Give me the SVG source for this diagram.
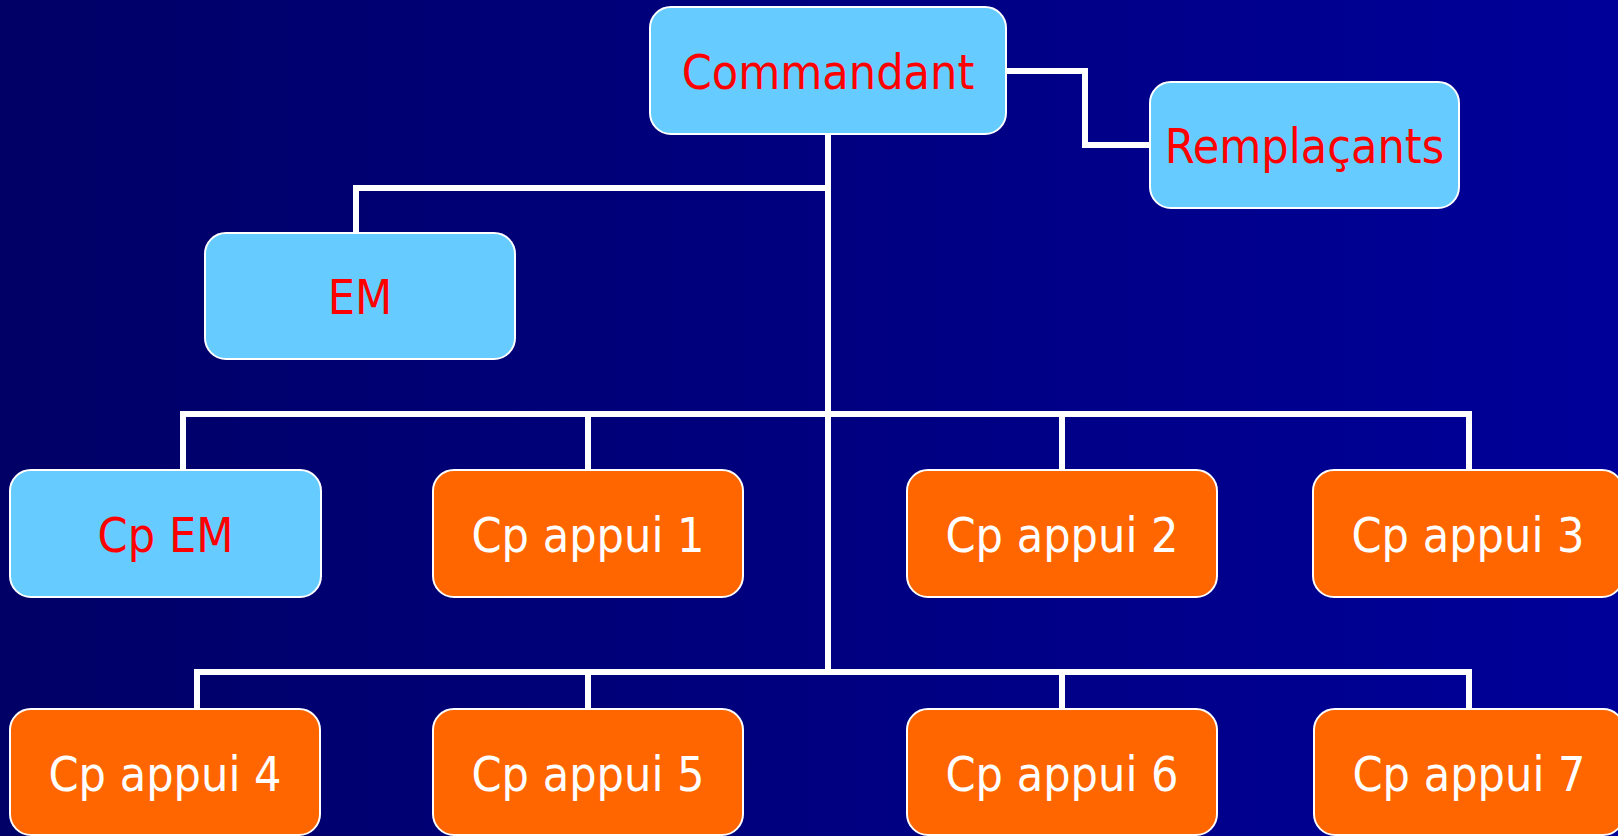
<svg xmlns="http://www.w3.org/2000/svg" width="1618" height="836" viewBox="0 0 1618 836">
  <defs>
    <linearGradient id="bg" x1="0" y1="0" x2="1" y2="0">
      <stop offset="0" stop-color="#000066"/>
      <stop offset="1" stop-color="#000099"/>
    </linearGradient>
    <style>
      .blue rect { fill: #66ccff; stroke: #ffffff; stroke-width: 2; }
      .orange rect { fill: #ff6600; stroke: #ffffff; stroke-width: 2; }
      text { font-family: "DejaVu Sans Condensed", "DejaVu Sans", Verdana, sans-serif; font-size: 48px; text-anchor: middle; }
      .blue text { fill: #ff0000; }
      .orange text { fill: #ffffff; }
      .conn path { fill: none; stroke: #ffffff; stroke-width: 6; stroke-linejoin: miter; stroke-linecap: square; }
    </style>
  </defs>
  <rect x="0" y="0" width="1618" height="836" fill="url(#bg)"/>

  <g id="connectors" class="conn">
    <path d="M828,134 V672"/>
    <path d="M828,188 H356 V233"/>
    <path d="M1007,71 H1085 V145 H1150"/>
    <path d="M183,470 V414 H1469 V470"/>
    <path d="M588,414 V470"/>
    <path d="M1062,414 V470"/>
    <path d="M197,709 V672 H1469 V709"/>
    <path d="M588,672 V709"/>
    <path d="M1062,672 V709"/>
  </g>

  <g id="commandant" class="blue">
    <rect x="650" y="7" width="356" height="127" rx="21"/>
    <text x="828" y="89">Commandant</text>
  </g>
  <g id="remplacants" class="blue">
    <rect x="1150" y="82" width="309" height="126" rx="21"/>
    <text x="1304.5" y="163">Remplaçants</text>
  </g>
  <g id="em" class="blue">
    <rect x="205" y="233" width="310" height="126" rx="21"/>
    <text x="360" y="314">EM</text>
  </g>
  <g id="cp-em" class="blue">
    <rect x="10" y="470" width="311" height="127" rx="21"/>
    <text x="165.5" y="552">Cp EM</text>
  </g>
  <g id="cp-appui-1" class="orange">
    <rect x="433" y="470" width="310" height="127" rx="21"/>
    <text x="588" y="552">Cp appui 1</text>
  </g>
  <g id="cp-appui-2" class="orange">
    <rect x="907" y="470" width="310" height="127" rx="21"/>
    <text x="1062" y="552">Cp appui 2</text>
  </g>
  <g id="cp-appui-3" class="orange">
    <rect x="1313" y="470" width="310" height="127" rx="21"/>
    <text x="1468" y="552">Cp appui 3</text>
  </g>
  <g id="cp-appui-4" class="orange">
    <rect x="10" y="709" width="310" height="126" rx="21"/>
    <text x="165" y="791">Cp appui 4</text>
  </g>
  <g id="cp-appui-5" class="orange">
    <rect x="433" y="709" width="310" height="126" rx="21"/>
    <text x="588" y="791">Cp appui 5</text>
  </g>
  <g id="cp-appui-6" class="orange">
    <rect x="907" y="709" width="310" height="126" rx="21"/>
    <text x="1062" y="791">Cp appui 6</text>
  </g>
  <g id="cp-appui-7" class="orange">
    <rect x="1314" y="709" width="310" height="126" rx="21"/>
    <text x="1469" y="791">Cp appui 7</text>
  </g>
</svg>
